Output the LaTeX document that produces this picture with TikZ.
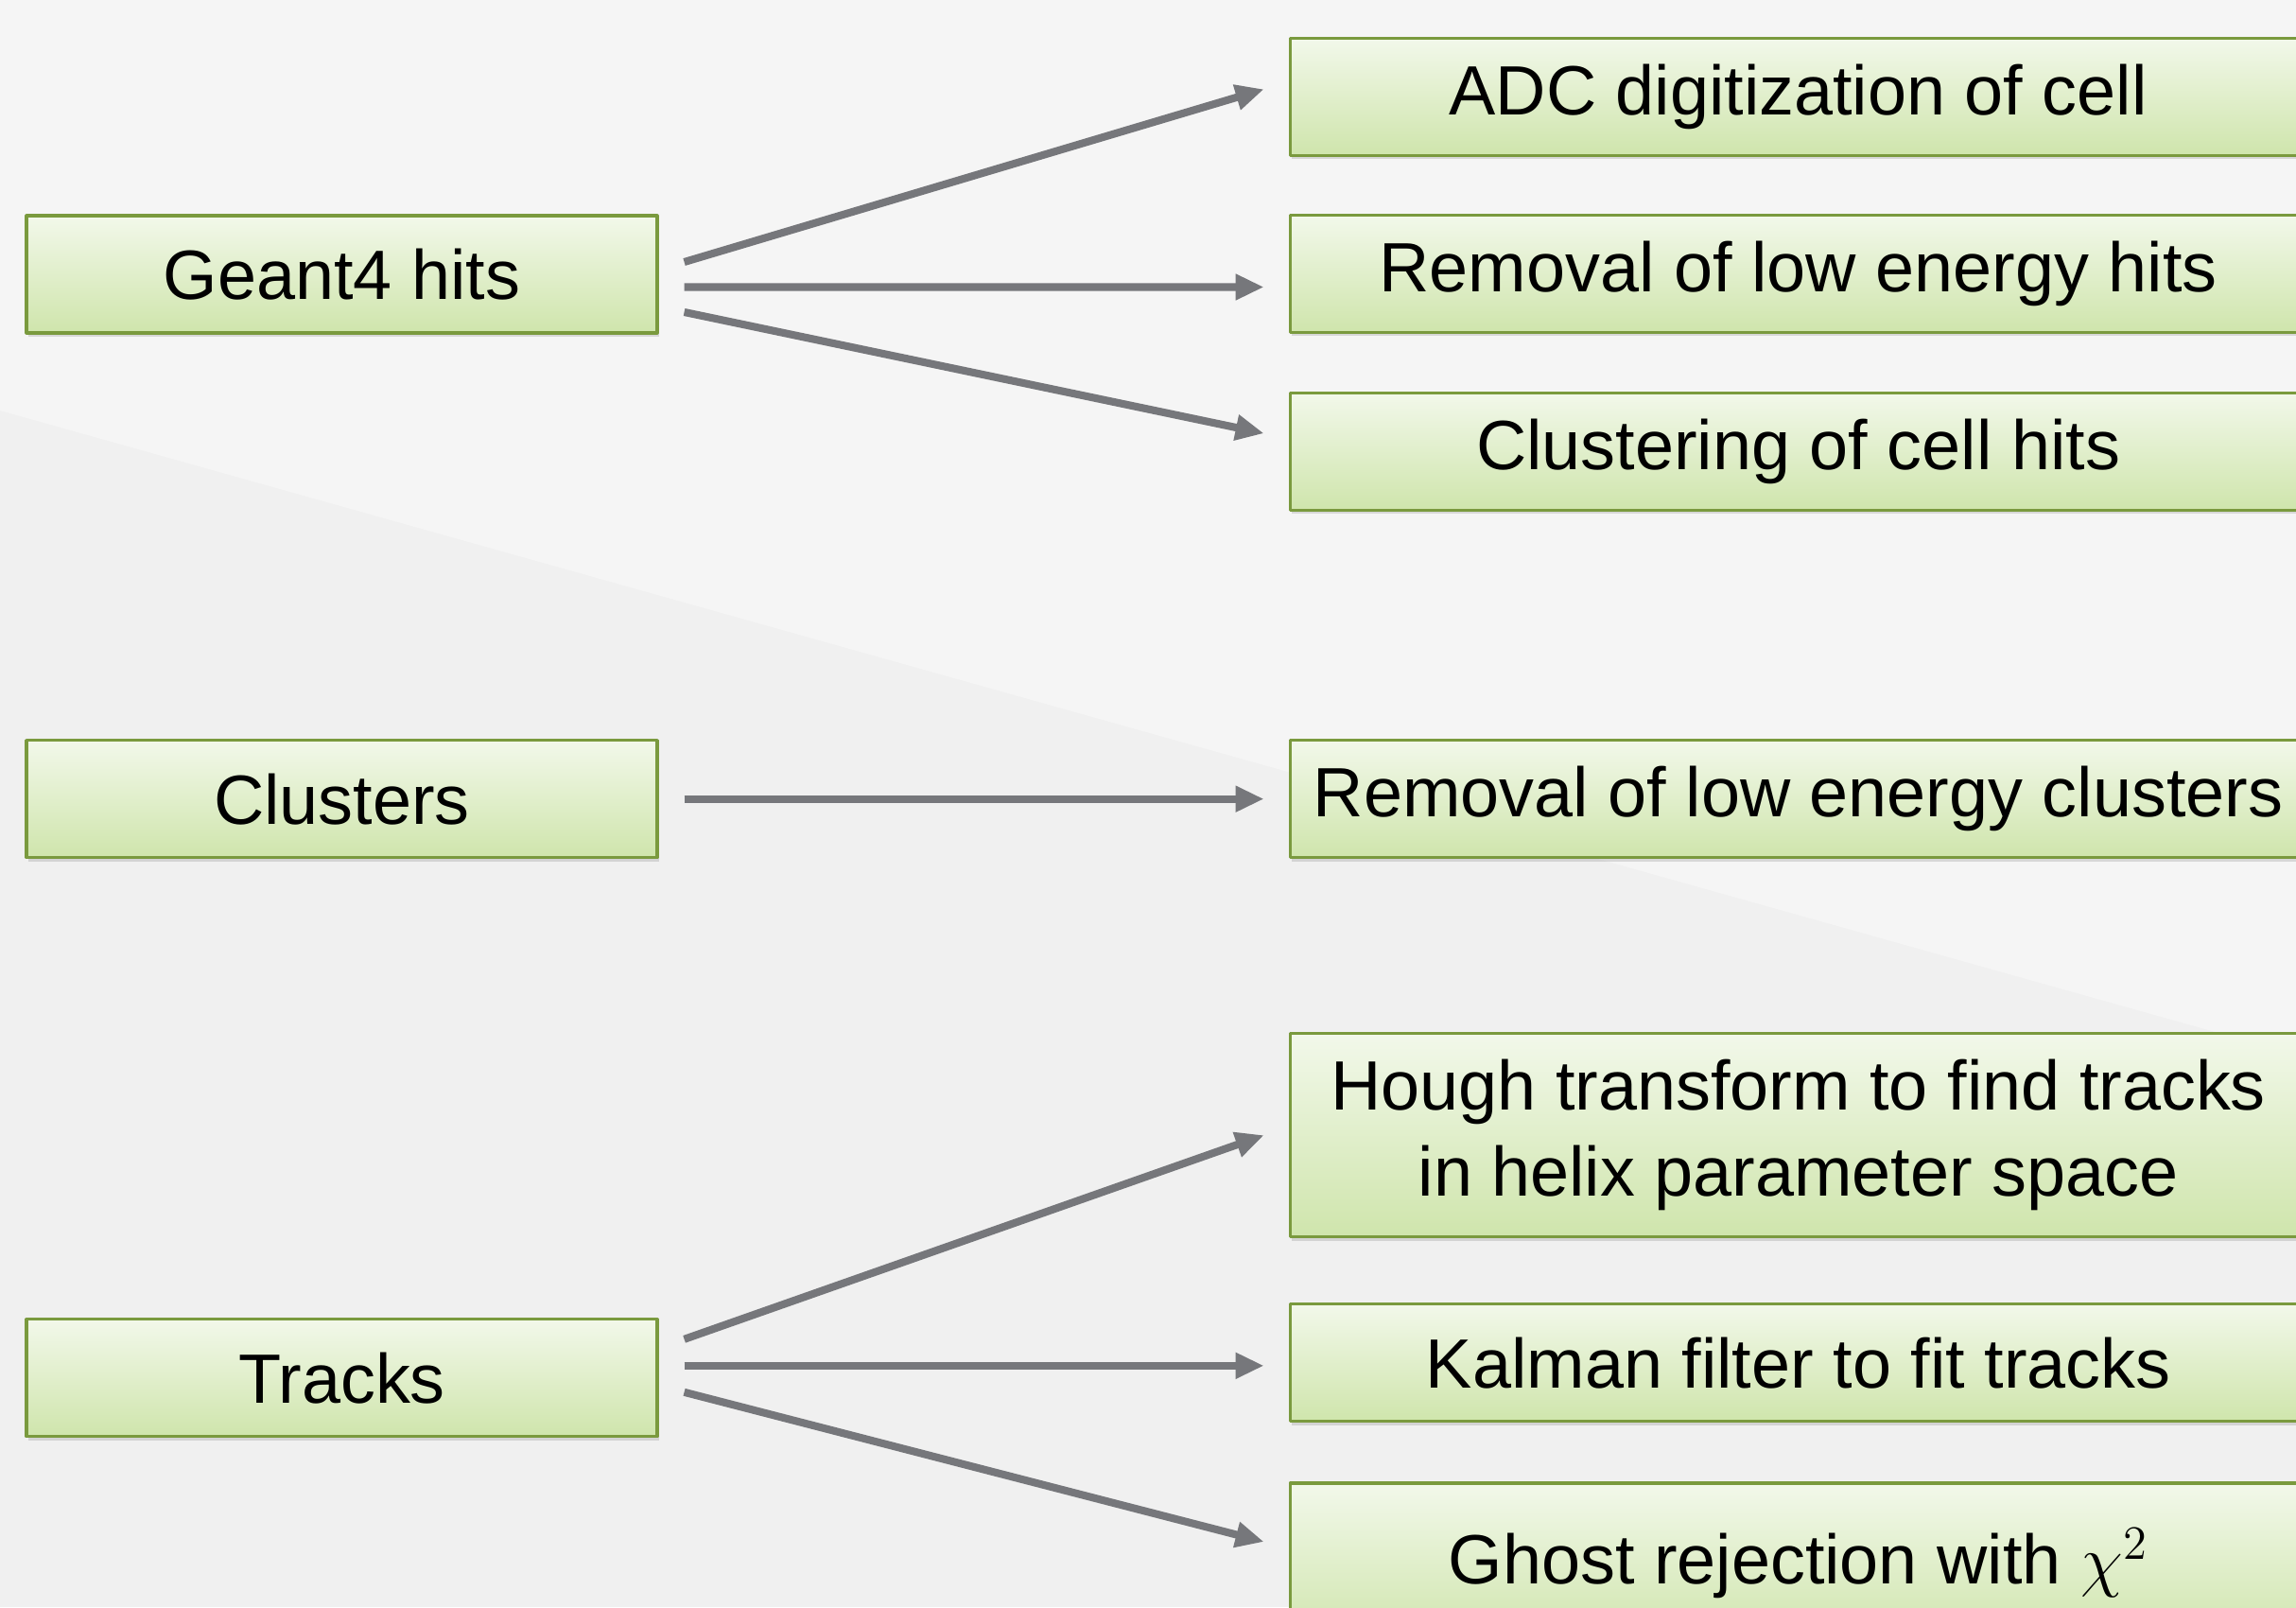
\documentclass[tikz,border=0pt]{standalone}
\usepackage{fontspec}
\setmainfont{Liberation Sans}
\usetikzlibrary{arrows.meta,positioning,shadows}

\definecolor{bggray}{RGB}{240,240,240}
\definecolor{bglight}{RGB}{245,245,245}
\definecolor{boxtop}{RGB}{242,248,234}
\definecolor{boxbottom}{RGB}{207,229,172}
\definecolor{boxline}{RGB}{122,154,62}
\definecolor{arrowgray}{RGB}{118,119,123}

\begin{document}
\begin{tikzpicture}[
    >={Triangle[length=0.3cm, width=0.26cm]},
    font=\fontsize{21}{26}\selectfont,
    line join=round,
    block/.style={
        draw=boxline,
        line width=0.9pt,
        rectangle,
        top color=boxtop,
        bottom color=boxbottom,
        drop shadow={shadow xshift=0.02cm, shadow yshift=-0.04cm, opacity=0.25},
        minimum width=6.67cm,
        minimum height=1.24cm,
        align=center
    },
    task/.style={block, minimum width=10.75cm},
    flow/.style={->, draw=arrowgray, line width=2.3pt}
]

% =========================
% Background
% =========================
\useasboundingbox (0,0) rectangle (24.28,16.99);
\fill[bggray] (0,0) rectangle (24.28,16.99);
\fill[bglight] (0,16.99) -- (0,12.65) -- (24.28,5.84) -- (24.28,16.99) -- cycle;

% =========================
% Nodes
% =========================
\node[block] (geant) at (3.615,14.09) {Geant4 hits};
\node[block, below=4.275cm of geant] (clusters) {Clusters};
\node[block, below=4.85cm of clusters] (tracks) {Tracks};

\node[task, right=6.66cm of geant, yshift=0.005cm] (lowhits) {Removal of low energy hits};
\node[task, above=0.6cm of lowhits] (adc) {ADC digitization of cell};
\node[task, below=0.605cm of lowhits] (cellclus) {Clustering of cell hits};

\node[task, right=6.66cm of clusters] (lowclus) {Removal of low energy clusters};

\node[task, right=6.66cm of tracks, yshift=0.16cm] (kalman) {Kalman filter to fit tracks};
\node[task, above=0.68cm of kalman, minimum height=2.15cm] (hough) {Hough transform to find tracks\\in helix parameter space};
\node[task, below=0.62cm of kalman, minimum height=1.7cm] (ghost) {Ghost rejection with $\chi^2$};

% =========================
% Hits
% =========================
\draw[flow] ([xshift=0.27cm, yshift=0.13cm]geant.east) -- ([xshift=-0.26cm, yshift=0.08cm]adc.west);
\draw[flow] ([xshift=0.27cm, yshift=-0.135cm]geant.east) -- ([xshift=-0.26cm, yshift=-0.14cm]lowhits.west);
\draw[flow] ([xshift=0.27cm, yshift=-0.40cm]geant.east) -- ([xshift=-0.26cm, yshift=0.19cm]cellclus.west);

% =========================
% Clusters
% =========================
\draw[flow] ([xshift=0.27cm]clusters.east) -- ([xshift=-0.26cm]lowclus.west);

% =========================
% Tracks
% =========================
\draw[flow] ([xshift=0.27cm, yshift=0.41cm]tracks.east) -- ([xshift=-0.26cm]hough.west);
\draw[flow] ([xshift=0.27cm, yshift=0.13cm]tracks.east) -- ([xshift=-0.26cm, yshift=-0.03cm]kalman.west);
\draw[flow] ([xshift=0.27cm, yshift=-0.15cm]tracks.east) -- ([xshift=-0.26cm, yshift=0.23cm]ghost.west);

\end{tikzpicture}
\end{document}
